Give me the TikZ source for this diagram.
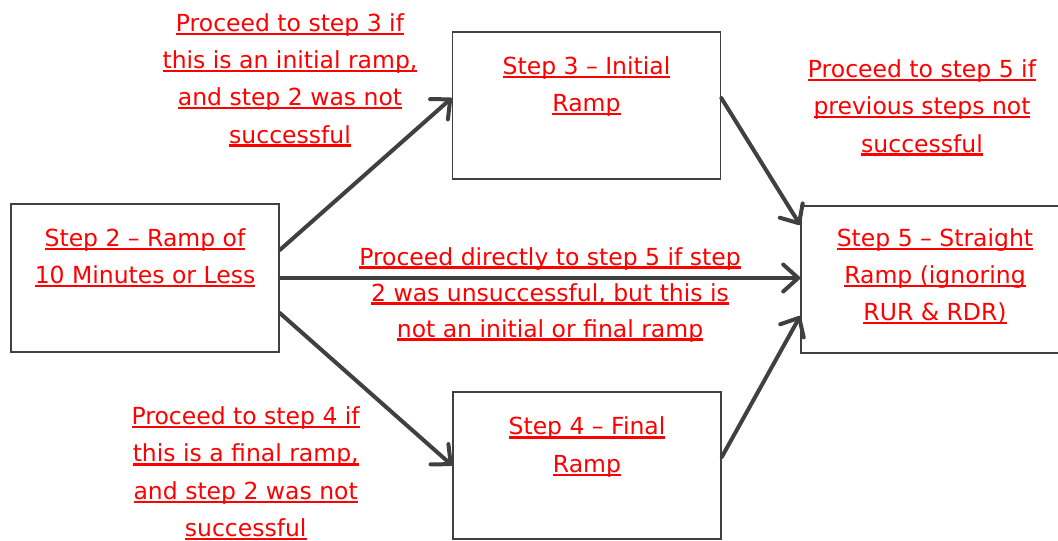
\documentclass[tikz,border=0pt]{standalone}
\usepackage{fontspec}
\setmainfont{DejaVu Sans}
\usepackage{tikz}
\usetikzlibrary{arrows.meta, positioning}
\definecolor{flowred}{HTML}{FF0000}
\definecolor{flowgray}{HTML}{404040}
\newcommand{\ulin}[1]{\setbox0=\hbox{#1}\rlap{\rule[-3.6pt]{\wd0}{2.2pt}}\box0}

\begin{document}
\begin{tikzpicture}[
  x=1pt, y=-1pt,
  every node/.style={font=\fontsize{23.5pt}{37.3pt}\selectfont},
  stepbox/.style={draw=flowgray, line width=1.6pt, minimum width=268pt, minimum height=147pt, inner sep=0pt},
  steptext/.style={text=flowred, align=center, anchor=base, inner sep=0pt},
  note/.style={text=flowred, align=center, anchor=base, inner sep=0pt},
  arrow/.style={-{Straight Barb[length=15pt, width=27pt, round]}, line width=4pt, flowgray, line cap=round},
]
\useasboundingbox (0,0) rectangle (1058,541);

% Step boxes
\node[stepbox, minimum height=148pt] (s2) at (145,278) {};
\node[stepbox] (s3) at (586.5,105.5) {};
\node[stepbox] (s4) at (587,465.5) {};
\node[stepbox] (s5) at (935,279.5) {};

% Box texts (anchored at the last line)
\node[steptext] (s2txt) at ([yshift=-80.5pt]s2.north) {\ulin{Step 2 – Ramp of}\\\ulin{10 Minutes or Less}};
\node[steptext] (s3txt) at ([yshift=-80.5pt]s3.north) {\ulin{Step 3 – Initial}\\\ulin{Ramp}};
\node[steptext] (s4txt) at ([yshift=-81pt]s4.north) {\ulin{Step 4 – Final}\\\ulin{Ramp}};
\node[steptext] (s5txt) at ([yshift=-115.5pt]s5.north) {\ulin{Step 5 – Straight}\\\ulin{Ramp (ignoring}\\\ulin{RUR \& RDR)}};

% Arrows
\draw[arrow] ([yshift=28pt]s2.east) -- ([yshift=7.5pt]s3.west);
\draw[arrow] (s2.east) -- (s2.east -| s5.west);
\draw[arrow] ([yshift=-35pt]s2.east) -- (s4.west);
\draw[arrow] ([yshift=7.5pt]s3.east) -- ([yshift=54.5pt]s5.west);
\draw[arrow] ([yshift=8.5pt]s4.east) -- ([yshift=-36.5pt]s5.west);

% Conditions
\node[note] (to3) at (290,143) {\ulin{Proceed to step 3 if}\\\ulin{this is an initial ramp,}\\\ulin{and step 2 was not}\\\ulin{successful}};
\node[note] (to5) at (922,152) {\ulin{Proceed to step 5 if}\\\ulin{previous steps not}\\\ulin{successful}};
\node[note, font=\fontsize{23.5pt}{36pt}\selectfont] (direct) at (550,337) {\ulin{Proceed directly to step 5 if step}\\\ulin{2 was unsuccessful, but this is}\\\ulin{not an initial or final ramp}};
\node[note] (to4) at (245.7,536.5) {\ulin{Proceed to step 4 if}\\\ulin{this is a final ramp,}\\\ulin{and step 2 was not}\\\ulin{successful}};

\end{tikzpicture}
\end{document}
